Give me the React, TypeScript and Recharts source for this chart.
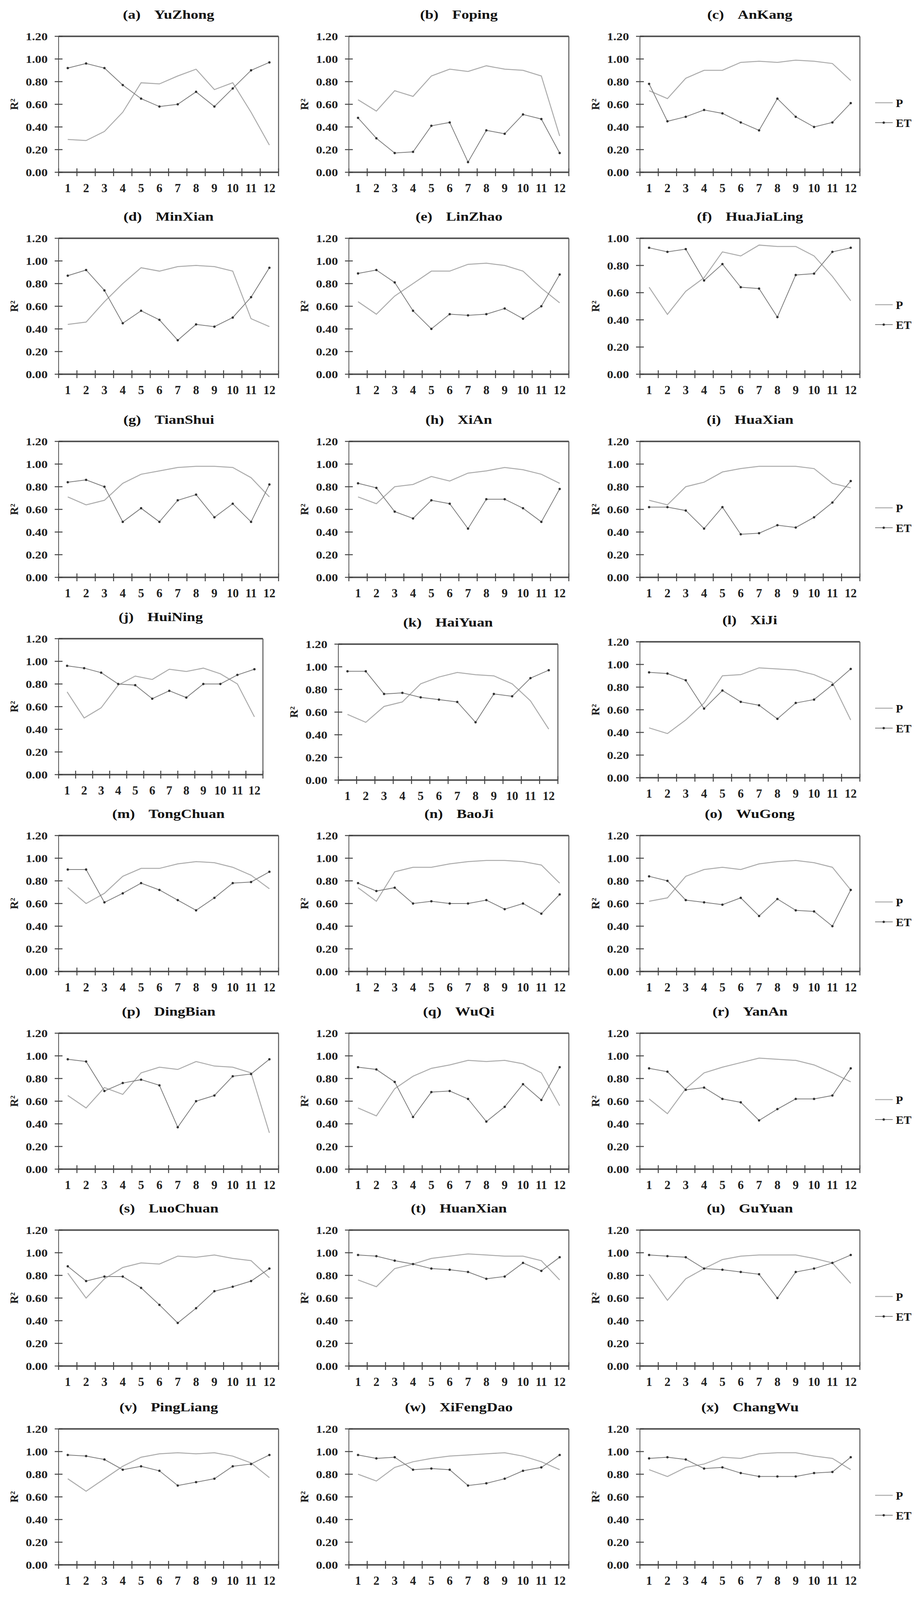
import React from 'react';
import { LineChart, Line, XAxis, YAxis, ReferenceLine } from 'recharts';

const months = [1, 2, 3, 4, 5, 6, 7, 8, 9, 10, 11, 12];
const yTicks12 = [0, 0.2, 0.4, 0.6, 0.8, 1.0, 1.2];
const yTicks10 = [0, 0.2, 0.4, 0.6, 0.8, 1.0];

const pYuZhong = [0.29, 0.28, 0.36, 0.53, 0.79, 0.78, 0.85, 0.91, 0.73, 0.79, 0.53, 0.24];
const etYuZhong = [0.92, 0.96, 0.92, 0.77, 0.65, 0.58, 0.60, 0.71, 0.58, 0.74, 0.90, 0.97];
const pFoping = [0.64, 0.54, 0.72, 0.67, 0.85, 0.91, 0.89, 0.94, 0.91, 0.90, 0.85, 0.32];
const etFoping = [0.48, 0.30, 0.17, 0.18, 0.41, 0.44, 0.09, 0.37, 0.34, 0.51, 0.47, 0.17];
const pAnKang = [0.72, 0.65, 0.83, 0.90, 0.90, 0.97, 0.98, 0.97, 0.99, 0.98, 0.96, 0.81];
const etAnKang = [0.78, 0.45, 0.49, 0.55, 0.52, 0.44, 0.37, 0.65, 0.49, 0.40, 0.44, 0.61];
const pMinXian = [0.44, 0.46, 0.64, 0.80, 0.94, 0.91, 0.95, 0.96, 0.95, 0.91, 0.49, 0.42];
const etMinXian = [0.87, 0.92, 0.74, 0.45, 0.56, 0.48, 0.30, 0.44, 0.42, 0.50, 0.68, 0.94];
const pLinZhao = [0.64, 0.53, 0.69, 0.80, 0.91, 0.91, 0.97, 0.98, 0.96, 0.91, 0.76, 0.63];
const etLinZhao = [0.89, 0.92, 0.81, 0.56, 0.40, 0.53, 0.52, 0.53, 0.58, 0.49, 0.60, 0.88];
const pHuaJiaLing = [0.64, 0.44, 0.61, 0.71, 0.90, 0.87, 0.95, 0.94, 0.94, 0.87, 0.72, 0.54];
const etHuaJiaLing = [0.93, 0.90, 0.92, 0.69, 0.81, 0.64, 0.63, 0.42, 0.73, 0.74, 0.90, 0.93];
const pTianShui = [0.71, 0.64, 0.68, 0.83, 0.91, 0.94, 0.97, 0.98, 0.98, 0.97, 0.88, 0.71];
const etTianShui = [0.84, 0.86, 0.80, 0.49, 0.61, 0.49, 0.68, 0.73, 0.53, 0.65, 0.49, 0.82];
const pXiAn = [0.71, 0.65, 0.80, 0.82, 0.89, 0.85, 0.92, 0.94, 0.97, 0.95, 0.91, 0.83];
const etXiAn = [0.83, 0.79, 0.58, 0.52, 0.68, 0.65, 0.43, 0.69, 0.69, 0.61, 0.49, 0.78];
const pHuaXian = [0.68, 0.64, 0.80, 0.84, 0.93, 0.96, 0.98, 0.98, 0.98, 0.96, 0.83, 0.79];
const etHuaXian = [0.62, 0.62, 0.59, 0.43, 0.62, 0.38, 0.39, 0.46, 0.44, 0.53, 0.66, 0.85];
const pHuiNing = [0.73, 0.50, 0.59, 0.79, 0.87, 0.84, 0.93, 0.91, 0.94, 0.89, 0.80, 0.51];
const etHuiNing = [0.96, 0.94, 0.90, 0.80, 0.79, 0.67, 0.74, 0.68, 0.80, 0.80, 0.88, 0.93];
const pHaiYuan = [0.58, 0.51, 0.65, 0.69, 0.85, 0.91, 0.95, 0.93, 0.92, 0.85, 0.70, 0.45];
const etHaiYuan = [0.96, 0.96, 0.76, 0.77, 0.73, 0.71, 0.69, 0.51, 0.76, 0.74, 0.90, 0.97];
const pXiJi = [0.44, 0.39, 0.51, 0.66, 0.90, 0.91, 0.97, 0.96, 0.95, 0.91, 0.84, 0.51];
const etXiJi = [0.93, 0.92, 0.86, 0.61, 0.77, 0.67, 0.64, 0.52, 0.66, 0.69, 0.82, 0.96];
const pTongChuan = [0.74, 0.60, 0.69, 0.84, 0.91, 0.91, 0.95, 0.97, 0.96, 0.92, 0.85, 0.73];
const etTongChuan = [0.90, 0.90, 0.61, 0.69, 0.78, 0.72, 0.63, 0.54, 0.65, 0.78, 0.79, 0.88];
const pBaoJi = [0.74, 0.62, 0.88, 0.92, 0.92, 0.95, 0.97, 0.98, 0.98, 0.97, 0.94, 0.78];
const etBaoJi = [0.78, 0.71, 0.74, 0.60, 0.62, 0.60, 0.60, 0.63, 0.55, 0.60, 0.51, 0.68];
const pWuGong = [0.62, 0.65, 0.84, 0.90, 0.92, 0.90, 0.95, 0.97, 0.98, 0.96, 0.92, 0.72];
const etWuGong = [0.84, 0.80, 0.63, 0.61, 0.59, 0.65, 0.49, 0.64, 0.54, 0.53, 0.40, 0.72];
const pDingBian = [0.65, 0.54, 0.72, 0.66, 0.85, 0.90, 0.88, 0.95, 0.91, 0.90, 0.85, 0.32];
const etDingBian = [0.97, 0.95, 0.69, 0.76, 0.79, 0.74, 0.37, 0.60, 0.65, 0.82, 0.84, 0.97];
const pWuQi = [0.54, 0.47, 0.71, 0.82, 0.89, 0.92, 0.96, 0.95, 0.96, 0.93, 0.85, 0.56];
const etWuQi = [0.90, 0.88, 0.77, 0.46, 0.68, 0.69, 0.62, 0.42, 0.55, 0.75, 0.61, 0.90];
const pYanAn = [0.62, 0.49, 0.71, 0.85, 0.90, 0.94, 0.98, 0.97, 0.96, 0.92, 0.85, 0.77];
const etYanAn = [0.89, 0.86, 0.70, 0.72, 0.62, 0.59, 0.43, 0.53, 0.62, 0.62, 0.65, 0.89];
const pLuoChuan = [0.82, 0.60, 0.77, 0.87, 0.91, 0.90, 0.97, 0.96, 0.98, 0.95, 0.93, 0.78];
const etLuoChuan = [0.88, 0.75, 0.79, 0.79, 0.69, 0.54, 0.38, 0.51, 0.66, 0.70, 0.75, 0.86];
const pHuanXian = [0.76, 0.70, 0.86, 0.90, 0.95, 0.97, 0.99, 0.98, 0.97, 0.97, 0.93, 0.76];
const etHuanXian = [0.98, 0.97, 0.93, 0.90, 0.86, 0.85, 0.83, 0.77, 0.79, 0.91, 0.84, 0.96];
const pGuYuan = [0.81, 0.58, 0.77, 0.86, 0.94, 0.97, 0.98, 0.98, 0.98, 0.95, 0.91, 0.73];
const etGuYuan = [0.98, 0.97, 0.96, 0.86, 0.85, 0.83, 0.81, 0.60, 0.83, 0.86, 0.91, 0.98];
const pPingLiang = [0.76, 0.65, 0.76, 0.87, 0.95, 0.98, 0.99, 0.98, 0.99, 0.96, 0.90, 0.77];
const etPingLiang = [0.97, 0.96, 0.93, 0.84, 0.87, 0.83, 0.70, 0.73, 0.76, 0.87, 0.89, 0.97];
const pXiFengDao = [0.80, 0.74, 0.86, 0.91, 0.94, 0.96, 0.97, 0.98, 0.99, 0.96, 0.91, 0.84];
const etXiFengDao = [0.97, 0.94, 0.95, 0.84, 0.85, 0.84, 0.70, 0.72, 0.76, 0.83, 0.86, 0.97];
const pChangWu = [0.84, 0.78, 0.86, 0.89, 0.95, 0.94, 0.98, 0.99, 0.99, 0.96, 0.94, 0.84];
const etChangWu = [0.94, 0.95, 0.93, 0.85, 0.86, 0.81, 0.78, 0.78, 0.78, 0.81, 0.82, 0.95];

type Panel = { tag: string; name: string; p: number[]; et: number[]; yTicks: number[] };

const panels: Panel[] = [
  { tag: '(a)', name: 'YuZhong', p: pYuZhong, et: etYuZhong, yTicks: yTicks12 },
  { tag: '(b)', name: 'Foping', p: pFoping, et: etFoping, yTicks: yTicks12 },
  { tag: '(c)', name: 'AnKang', p: pAnKang, et: etAnKang, yTicks: yTicks12 },
  { tag: '(d)', name: 'MinXian', p: pMinXian, et: etMinXian, yTicks: yTicks12 },
  { tag: '(e)', name: 'LinZhao', p: pLinZhao, et: etLinZhao, yTicks: yTicks12 },
  { tag: '(f)', name: 'HuaJiaLing', p: pHuaJiaLing, et: etHuaJiaLing, yTicks: yTicks10 },
  { tag: '(g)', name: 'TianShui', p: pTianShui, et: etTianShui, yTicks: yTicks12 },
  { tag: '(h)', name: 'XiAn', p: pXiAn, et: etXiAn, yTicks: yTicks12 },
  { tag: '(i)', name: 'HuaXian', p: pHuaXian, et: etHuaXian, yTicks: yTicks12 },
  { tag: '(j)', name: 'HuiNing', p: pHuiNing, et: etHuiNing, yTicks: yTicks12 },
  { tag: '(k)', name: 'HaiYuan', p: pHaiYuan, et: etHaiYuan, yTicks: yTicks12 },
  { tag: '(l)', name: 'XiJi', p: pXiJi, et: etXiJi, yTicks: yTicks12 },
  { tag: '(m)', name: 'TongChuan', p: pTongChuan, et: etTongChuan, yTicks: yTicks12 },
  { tag: '(n)', name: 'BaoJi', p: pBaoJi, et: etBaoJi, yTicks: yTicks12 },
  { tag: '(o)', name: 'WuGong', p: pWuGong, et: etWuGong, yTicks: yTicks12 },
  { tag: '(p)', name: 'DingBian', p: pDingBian, et: etDingBian, yTicks: yTicks12 },
  { tag: '(q)', name: 'WuQi', p: pWuQi, et: etWuQi, yTicks: yTicks12 },
  { tag: '(r)', name: 'YanAn', p: pYanAn, et: etYanAn, yTicks: yTicks12 },
  { tag: '(s)', name: 'LuoChuan', p: pLuoChuan, et: etLuoChuan, yTicks: yTicks12 },
  { tag: '(t)', name: 'HuanXian', p: pHuanXian, et: etHuanXian, yTicks: yTicks12 },
  { tag: '(u)', name: 'GuYuan', p: pGuYuan, et: etGuYuan, yTicks: yTicks12 },
  { tag: '(v)', name: 'PingLiang', p: pPingLiang, et: etPingLiang, yTicks: yTicks12 },
  { tag: '(w)', name: 'XiFengDao', p: pXiFengDao, et: etXiFengDao, yTicks: yTicks12 },
  { tag: '(x)', name: 'ChangWu', p: pChangWu, et: etChangWu, yTicks: yTicks12 },
];

// ---- layout (pixels) ----
// The visible page area is slightly shorter than the nominal window, so the
// vertical layout is compressed to keep the last row fully in view.
const SY = 0.968;
const PAGE_H = 4211 * SY;
const colLeft = [150, 893, 1638];
const rowTop = [96, 630, 1167, 1689, 2210, 2732, 3253, 3779];
const PLOT_W = 563;
const PLOT_H = Math.round(359 * SY);
const overrides: Record<number, { L?: number; T?: number; W?: number }> = {
  9: { W: 523 },
  10: { L: 866, T: 1704, W: 562 },
  11: { T: 1697 },
};

const SERIF = '"Liberation Serif", "Times New Roman", Times, serif';
const P_COLOR = '#ababab';
const ET_COLOR = '#7c7c7c';
const AXIS_COLOR = '#555555';

const YW = 150;
const MT = 34;
const MR = 20;
const XH = 62;

const renderXTick = (props: any) => {
  const { x, y, payload } = props;
  const v = payload.value;
  if (Number.isInteger(v)) {
    return (
      <text x={x} y={y + 51} textAnchor="middle" fontFamily={SERIF} fontWeight="bold" fontSize={31} fill="#222">
        {String(v)}
      </text>
    );
  }
  return <line x1={x} x2={x} y1={y - 10} y2={y + 10} stroke="#444" strokeWidth={2.5} />;
};

const renderYTick = (props: any) => {
  const { x, y, payload } = props;
  return (
    <g>
      <line x1={x - 10} x2={x + 10} y1={y} y2={y} stroke="#444" strokeWidth={2.5} />
      <text
        transform={`translate(${x - 28},${y + 10}) scale(1.15,1)`}
        textAnchor="end"
        fontFamily={SERIF}
        fontWeight="bold"
        fontSize={28}
        fill="#222"
      >
        {Number(payload.value).toFixed(2)}
      </text>
    </g>
  );
};

function PanelChart({ panel, L, T, W, H, legend }: { panel: Panel; L: number; T: number; W: number; H: number; legend: boolean }) {
  const data = months.map((m, i) => ({ m, p: panel.p[i], et: panel.et[i] }));
  const yMax = panel.yTicks[panel.yTicks.length - 1];
  const xTicks = [0.5, ...months.flatMap((m) => [m, m + 0.5])];
  return (
    <>
      <div style={{ position: 'absolute', left: L - YW, top: T - MT }}>
        <LineChart width={YW + W + MR} height={MT + H + XH} data={data} margin={{ top: MT, right: MR, left: 0, bottom: 0 }}>
          <XAxis
            dataKey="m"
            type="number"
            domain={[0.5, 12.5]}
            ticks={xTicks}
            interval={0}
            tickSize={0}
            tickMargin={0}
            tickLine={false}
            tick={renderXTick}
            axisLine={{ stroke: AXIS_COLOR, strokeWidth: 4 }}
            height={XH}
          />
          <YAxis
            type="number"
            domain={[0, yMax]}
            ticks={panel.yTicks}
            interval={0}
            tickSize={0}
            tickMargin={0}
            tickLine={false}
            tick={renderYTick}
            axisLine={{ stroke: AXIS_COLOR, strokeWidth: 2 }}
            width={YW}
          />
          <ReferenceLine y={yMax} stroke={AXIS_COLOR} strokeWidth={4} />
          <ReferenceLine x={12.5} stroke={AXIS_COLOR} strokeWidth={2.5} />
          <Line dataKey="p" stroke={P_COLOR} strokeWidth={2.5} dot={false} activeDot={false} isAnimationActive={false} />
          <Line
            dataKey="et"
            stroke={ET_COLOR}
            strokeWidth={2}
            dot={{ r: 3, fill: '#333', stroke: '#333', strokeWidth: 0 }}
            activeDot={false}
            isAnimationActive={false}
          />
        </LineChart>
      </div>
      <div
        style={{
          position: 'absolute',
          left: L,
          width: W,
          top: T - 77,
          height: 44,
          textAlign: 'center',
          fontFamily: SERIF,
          fontWeight: 'bold',
          fontSize: 31,
          lineHeight: '44px',
          color: '#111',
          whiteSpace: 'nowrap',
        }}
      >
        <span style={{ display: 'inline-block', transform: 'scaleX(1.25)' }}>
          {panel.tag}
          <span style={{ marginLeft: 28 }}>{panel.name}</span>
        </span>
      </div>
      <div
        style={{
          position: 'absolute',
          left: L - 114,
          top: T + H / 2,
          transform: 'translate(-50%, -50%) rotate(-90deg)',
          fontFamily: SERIF,
          fontWeight: 'bold',
          fontSize: 29,
          lineHeight: '34px',
          color: '#222',
          whiteSpace: 'nowrap',
        }}
      >
        R²
      </div>
      {legend && (
        <svg style={{ position: 'absolute', left: 2225, top: T + 124 }} width={130} height={135}>
          <line x1={15} x2={60} y1={46} y2={46} stroke={P_COLOR} strokeWidth={2.5} />
          <text x={68} y={57} fontFamily={SERIF} fontWeight="bold" fontSize={30} fill="#111">P</text>
          <line x1={15} x2={60} y1={97} y2={97} stroke={ET_COLOR} strokeWidth={2} />
          <circle cx={37} cy={97} r={3} fill="#333" />
          <text x={68} y={108} fontFamily={SERIF} fontWeight="bold" fontSize={30} fill="#111">ET</text>
        </svg>
      )}
    </>
  );
}

export default function App() {
  return (
    <div style={{ position: 'absolute', left: 0, top: 0, width: 2360, height: PAGE_H, background: '#fff', overflow: 'hidden' }}>
      {panels.map((panel, i) => {
        const row = Math.floor(i / 3);
        const col = i % 3;
        const o = overrides[i] || {};
        const L = o.L ?? colLeft[col];
        const T = Math.round((o.T ?? rowTop[row]) * SY);
        const W = o.W ?? PLOT_W;
        return <PanelChart key={panel.name} panel={panel} L={L} T={T} W={W} H={PLOT_H} legend={col === 2} />;
      })}
    </div>
  );
}
